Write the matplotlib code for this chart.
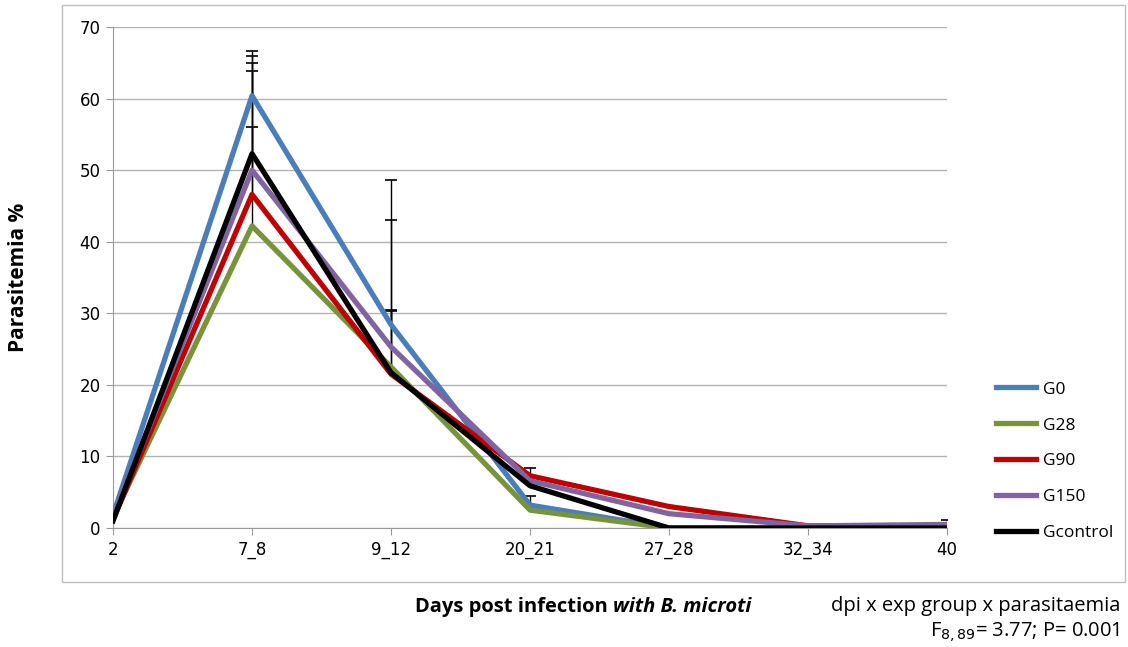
import matplotlib.pyplot as plt
from matplotlib.patches import Rectangle

days = ['2', '7_8', '9_12', '20_21', '27_28', '32_34', '40']
groups = ['G0', 'G28', 'G90', 'G150', 'Gcontrol']
colors = ['#4a7ebb', '#77933c', '#c00000', '#8064a2', '#000000']

g0 = [1.8, 60.4, 28.4, 3.2, 0.0, 0.0, 0.0]
g28 = [1.5, 42.2, 22.5, 2.5, 0.0, 0.0, 0.0]
g90 = [1.2, 46.6, 21.5, 7.3, 3.0, 0.3, 0.3]
g150 = [1.5, 50.0, 25.3, 6.6, 2.0, 0.3, 0.5]
gcontrol = [1.0, 52.3, 21.7, 5.9, 0.0, 0.0, 0.0]

err_g0 = [0, 6.3, 20.2, 1.3, 0, 0, 0]
err_g28 = [0, 13.8, 8.0, 0, 0, 0, 0]
err_g90 = [0, 17.3, 0, 1.1, 0, 0, 0]
err_g150 = [0, 16.0, 17.7, 0, 0, 0, 0.6]
err_gcontrol = [0, 12.7, 8.6, 0, 0, 0, 0]

series = [g0, g28, g90, g150, gcontrol]
errors = [err_g0, err_g28, err_g90, err_g150, err_gcontrol]

fig = plt.figure(figsize=(11.28, 6.47), dpi=100)
ax = fig.add_axes([0.1002, 0.1839, 0.7394, 0.7744])

x = list(range(len(days)))
for vals, err in zip(series, errors):
    idx = [i for i in x if err[i] > 0]
    _, caps, _ = ax.errorbar([x[i] for i in idx], [vals[i] for i in idx],
                             yerr=[[0] * len(idx), [err[i] for i in idx]], fmt='none',
                             ecolor='black', elinewidth=1, capsize=4, capthick=1.2,
                             zorder=2)
    caps[0].set_visible(False)  # no lower cap
for name, vals, c in zip(groups, series, colors):
    ax.plot(x, vals, color=c, lw=3.8, label=name, zorder=3)

ax.set_xlim(0, 6)
ax.set_ylim(0, 70)
ax.set_xticks(x)
ax.set_xticklabels(days)
ax.set_yticks(range(0, 71, 10))
ax.grid(axis='y', color='#b3b3b3', lw=1)
ax.set_axisbelow(True)
for s in ['top', 'right']:
    ax.spines[s].set_visible(False)
for s in ['left', 'bottom']:
    ax.spines[s].set_color('#999999')
ax.tick_params(axis='both', color='#999999', length=5, labelsize=12, pad=4)

ax.set_ylabel('Parasitemia %', fontsize=15, fontweight='bold',
              family='Open Sans', labelpad=36)

# x label: bold part + bold italic part
t1 = fig.text(0.368, 0.062, 'Days post infection ', ha='left', va='center',
              fontsize=14.5, fontweight='bold', family='Open Sans')
ax.annotate('with B. microti', xy=(1, 0), xycoords=t1, va='bottom', ha='left',
            fontsize=14.5, fontweight='bold', style='italic', family='Open Sans')

ax.legend(loc='center left', bbox_to_anchor=(1.04, 0.133), frameon=False,
          prop={'family': 'Open Sans', 'size': 12.5}, handlelength=2.3,
          labelspacing=1.14, handletextpad=0.4)

fig.text(0.993, 0.063, 'dpi x exp group x parasitaemia', ha='right', va='center',
         fontsize=14.5, family='Open Sans')
fig.text(0.993, 0.023, 'F$_{8,89}$= 3.77; P= 0.001', ha='right', va='center',
         fontsize=14.5, family='Open Sans')

fig.add_artist(Rectangle((62 / 1128, 1 - 582 / 647), (1125 - 62) / 1128, (582 - 5) / 647,
                         transform=fig.transFigure, fill=False, edgecolor='#bfbfbf', lw=1))

fig.savefig('out.png', dpi=100)
